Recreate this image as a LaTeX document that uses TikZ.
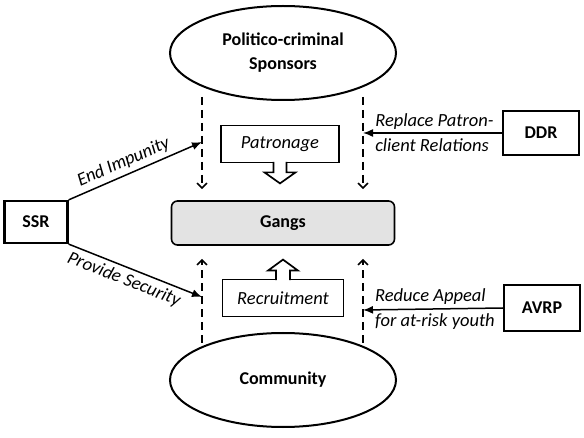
\documentclass[tikz,border=0pt]{standalone}
\usepackage{fontspec}
\setmainfont{Carlito}
\usetikzlibrary{calc,shapes.geometric,arrows.meta}

\begin{document}
\begin{tikzpicture}[x=1pt,y=-1pt,
  actor/.style={draw,ellipse,line width=2pt,minimum width=226pt,minimum height=94pt,
    align=center,font=\bfseries\fontsize{18}{24}\selectfont},
  gang/.style={draw,rounded corners=6pt,line width=1.6pt,fill=black!11,
    minimum width=223pt,minimum height=44pt,font=\bfseries\fontsize{18}{22}\selectfont},
  prog/.style={draw,line width=2.2pt,minimum width=76pt,minimum height=44pt,
    font=\bfseries\fontsize{18}{22}\selectfont},
  frame/.style={draw,line width=1.8pt,minimum width=118pt,minimum height=37pt,
    font=\itshape\fontsize{18.5}{22}\selectfont},
  lbl/.style={font=\itshape\fontsize{18.5}{25}\selectfont,inner sep=2pt},
  link/.style={line width=1.5pt,-{Latex[length=10pt,width=8pt]}},
  infl/.style={line width=1.5pt,dash pattern=on 8pt off 5pt,
    -{Straight Barb[length=5pt,width=10pt,line width=1.6pt]}},
  blk/.style={line width=1.7pt,fill=white,line join=miter}
]
  \useasboundingbox (0,0) rectangle (584,438);

  %% main actors
  \node[actor] (Spon) at (283,53) {Politico-criminal\\Sponsors};
  \node[actor] (Comm) at (283,380) {Community};
  \node[gang] (Gangs) at (283,223) {Gangs};

  %% programmes
  \node[prog,minimum width=63pt,minimum height=42pt] (SSR) at (36,222) {SSR};
  \node[prog] (DDR) at (541,133) {DDR};
  \node[prog,minimum height=46pt] (AVRP) at (542,308) {AVRP};

  %% relations
  \node[frame] (Pat) at (280,144) {Patronage};
  \node[frame,minimum width=121pt] (Rec) at (283,298) {Recruitment};

  %% points on the dashed lines
  \coordinate (STL) at (202,97);
  \coordinate (STR) at (363,97);
  \coordinate (SBL) at (202,343);
  \coordinate (SBR) at (363,343);
  \coordinate (EI) at (202,142);
  \coordinate (PS) at (202,297);
  \coordinate (RP) at (363,133);
  \coordinate (RA) at (363,310);

  %% dashed influence lines
  \draw[infl,shorten >=11pt] (STL) -- (STL |- Gangs.north);
  \draw[infl,shorten >=11pt] (STR) -- (STR |- Gangs.north);
  \draw[infl,shorten >=13pt] (SBL) -- (SBL |- Gangs.south);
  \draw[infl,shorten >=13pt] (SBR) -- (SBR |- Gangs.south);

  %% block arrows
  \draw[blk] ($(Pat.south)+(-6.5,-1.5)$) -- ++(0,10.5) -- ++(-9,0)
    -- ($(Pat.south)+(0,20)$) -- ($(Pat.south)+(15.5,9)$) -- ++(-9,0) -- ++(0,-10.5);
  \draw[blk] ($(Rec.north)+(-7,1.5)$) -- ++(0,-9.5) -- ++(-8,0)
    -- ($(Rec.north)+(0,-19)$) -- ($(Rec.north)+(15,-8)$) -- ++(-8,0) -- ++(0,9.5);

  %% programme arrows
  \draw[link] (SSR.north east) -- node[lbl,above,sloped,inner sep=4pt,pos=0.45] {End Impunity} (EI);
  \draw[link] (SSR.south east) -- node[lbl,below,sloped,inner sep=4pt,pos=0.45] {Provide Security} (PS);
  \draw[link] (DDR.west) -- node[lbl,align=left,xshift=2pt] {Replace Patron-\\client Relations} (RP);
  \draw[link] (AVRP.west) -- node[lbl,align=left,xshift=2pt] {Reduce Appeal\\for at-risk youth} (RA);
\end{tikzpicture}
\end{document}
